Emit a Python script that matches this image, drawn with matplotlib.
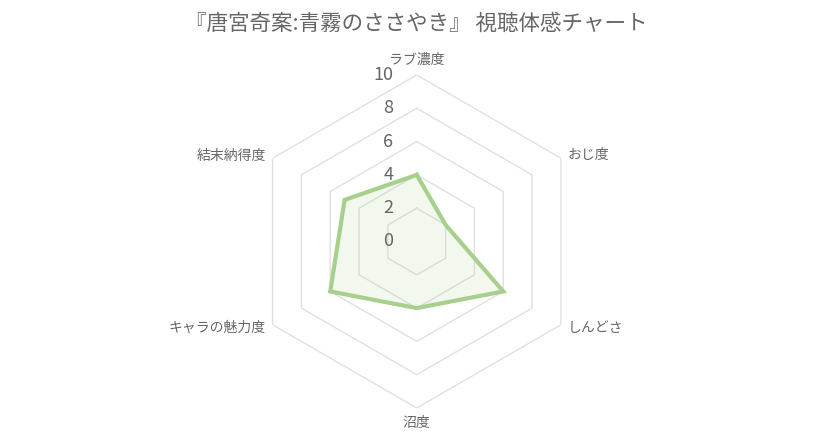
import numpy as np
import matplotlib
matplotlib.use('Agg')
import matplotlib.pyplot as plt

plt.rcParams['font.family'] = ['Noto Sans CJK JP', 'DejaVu Sans']

title = '『唐宮奇案:青霧のささやき』 視聴体感チャート'
labels = ['ラブ濃度', 'おじ度', 'しんどさ', '沼度', 'キャラの魅力度', '結末納得度']
scores = [4, 2, 6, 4, 6, 5]
ticks = [0, 2, 4, 6, 8, 10]

line_color = '#a8d08d'
grid_color = '#e0e0e0'
text_color = '#666666'

fig = plt.figure(figsize=(8.33, 4.38), dpi=100)
ax = fig.add_axes([0.3004, 0.0685, 0.3998, 0.7603], projection='polar')
ax.set_theta_zero_location('N')
ax.set_theta_direction(-1)
ax.set_ylim(0, 10)
ax.grid(False)
ax.spines['polar'].set_visible(False)
ax.set_xticks([])
ax.set_yticks([])
ax.patch.set_alpha(0)

n = len(labels)
angles = np.linspace(0, 2 * np.pi, n, endpoint=False)
closed = np.append(angles, angles[0])

# hexagon rings only, no spokes
for t in ticks[1:]:
    ax.plot(closed, [t] * (n + 1), color=grid_color, lw=1, zorder=1)

vals = scores + scores[:1]
ax.fill(closed, vals, color=line_color, alpha=0.15, lw=0, zorder=2)
ax.plot(closed, vals, color=line_color, lw=3, solid_joinstyle='miter', zorder=3)

# scale labels
for t in ticks:
    ax.annotate(str(t), (0, t), xytext=(-17, 0), textcoords='offset points',
                ha='right', va='center', fontsize=13, color=text_color, zorder=4)

# axis labels
offsets = [(0, 6), (5, 2), (5, -2), (0, -6), (-5, -2), (-5, 2)]
aligns = [('center', 'bottom'), ('left', 'center'), ('left', 'center'),
          ('center', 'top'), ('right', 'center'), ('right', 'center')]
for a, lab, off, (h, v) in zip(angles, labels, offsets, aligns):
    ax.annotate(lab, (a, 10), xytext=off, textcoords='offset points',
                ha=h, va=v, fontsize=10, color=text_color)

fig.text(0.5, 0.945, title, ha='center', va='center', fontsize=15.5, color=text_color)

fig.savefig('out.png', dpi=100)
